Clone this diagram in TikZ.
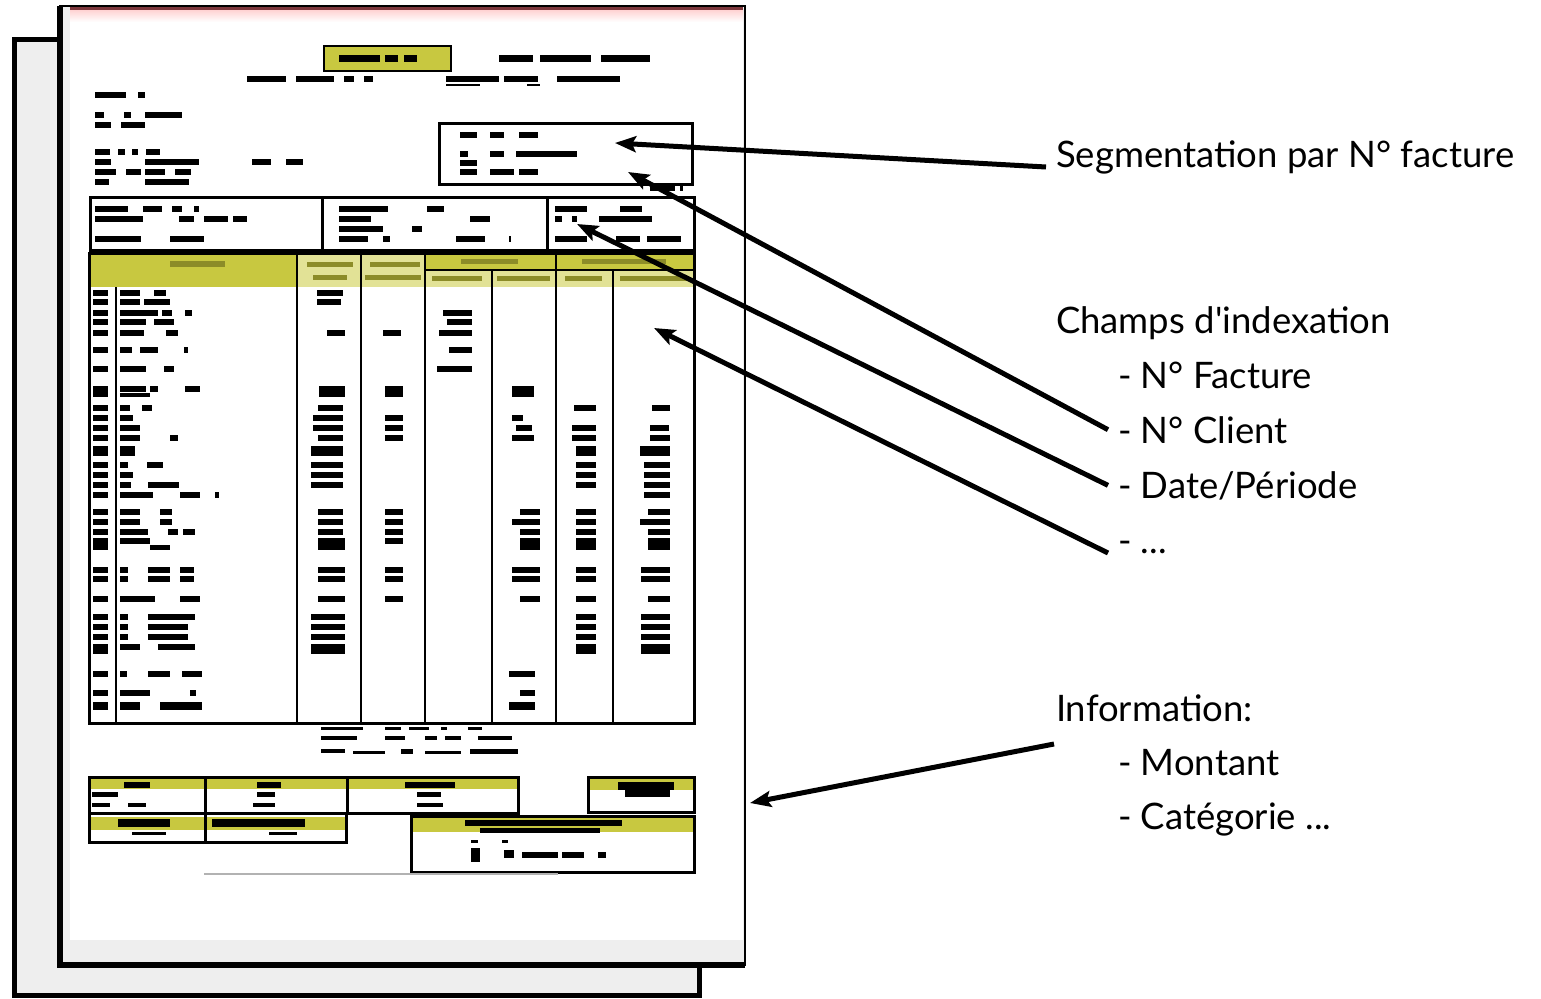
\documentclass[tikz,border=0pt]{standalone}
\usepackage{fontspec}
\setmainfont{Lato}
\usetikzlibrary{arrows.meta}

\definecolor{facjaune}{RGB}{200,200,64}
\definecolor{facpale}{RGB}{226,226,150}
\definecolor{facolive}{RGB}{140,140,40}
\definecolor{fondgris}{RGB}{238,238,238}
\definecolor{bordrouge}{RGB}{125,55,60}

\tikzset{
  lbl/.style={anchor=base west, inner sep=0pt, outer xsep=10pt, font=\fontsize{36.5}{44}\selectfont},
  fleche/.style={line width=5pt, -{Stealth[length=21pt,width=16pt,inset=4pt]}},
  cadre/.style={line width=3pt},
}

\begin{document}
\begin{tikzpicture}[x=1pt,y=-1pt]
\useasboundingbox (0,0) rectangle (1541,998);

% 1. 后面的纸 (灰色)
    \fill[fondgris] (14,40) rectangle (699,995);
    \draw[line width=5pt] (14,40) rectangle (699,995);

% 2. 前面的纸 (发票扫描)
    \fill[fondgris] (60,6) rectangle (745,965);
    \fill[white] (70,9) rectangle (743,940);
    \shade[top color=pink!70, bottom color=white] (70,10) rectangle (743,22);
    \fill[bordrouge] (70,7) rectangle (743,10);
    \draw[line width=2.5pt] (60,6) rectangle (745,965);
    \draw[line width=5.5pt] (60,6) -- (60,965) -- (745,965);

% 3. 标题和地址 (黑块代替文字)
    \filldraw[fill=facjaune, line width=2pt] (324,46) rectangle (451,71);
    \foreach \a/\b/\c/\d in {339/55/380/62, 385/55/398/62, 404/55/417/62,
        499/55/533/62, 540/55/591/62, 601/55/650/62,
        247/76/286/82, 296/76/334/82, 344/76/354/82, 364/76/373/82,
        446/76/499/82, 504/76/538/82, 557/76/620/82, 446/84/480/86, 527/84/540/86,
        95/92/126/98, 138/92/145/98,
        95/112/104/118, 124/112/131/118, 145/112/182/118,
        95/122/111/128, 121/122/145/128,
        95/149/110/155, 118/149/125/155, 132/149/138/155, 146/149/160/155,
        95/159/111/165, 145/159/199/165, 252/159/271/165, 286/159/303/165,
        95/169/116/175, 126/169/141/175, 145/169/165/175, 175/169/191/175,
        95/179/109/185, 145/179/189/185} {
        \fill (\a,\b) rectangle (\c,\d);
    }

    % 客户框
    \draw[cadre] (439,123) rectangle (692,184);
    \foreach \a/\b/\c/\d in {460/132/477/138, 490/132/504/138, 519/132/538/138,
        460/151/468/157, 490/151/504/157, 516/151/577/157,
        460/160/477/166,
        460/169/477/175, 490/169/514/175, 519/169/538/175,
        650/186/675/191, 680/186/683/191} {
        \fill (\a,\b) rectangle (\c,\d);
    }

    % 三个信息框
    \draw[cadre] (90,197) rectangle (694,250);
    \draw[cadre] (322,197) -- (322,250);
    \draw[cadre] (547,197) -- (547,250);
    \foreach \a/\b/\c/\d in {95/206/128/212, 143/206/162/212, 172/206/182/212, 194/206/199/212,
        95/216/143/222, 179/216/194/222, 204/216/228/222, 233/216/247/222,
        95/236/141/242, 170/236/204/242,
        339/206/388/212, 427/206/444/212,
        339/216/371/222, 470/216/490/222,
        339/226/383/232, 412/226/422/232,
        339/236/368/242, 383/236/390/242, 456/236/485/242, 509/236/511/242,
        555/206/587/212, 620/206/642/212,
        555/216/562/222, 572/216/577/222, 599/216/652/222,
        555/236/587/242, 616/236/640/242, 647/236/681/242} {
        \fill (\a,\b) rectangle (\c,\d);
    }

% 4. 表格
    \fill[facjaune] (89,255) rectangle (297,287);
    \fill[facpale] (297,255) rectangle (425,287);
    \fill[facjaune] (425,255) rectangle (694,270);
    \fill[facpale] (425,270) rectangle (694,287);
    \foreach \a/\b/\c/\d in {170/261/225/267, 307/262/353/267, 313/275/347/280,
        370/262/420/267, 365/275/421/280, 461/259/518/264, 582/259/666/264,
        432/276/482/281, 497/276/550/281, 565/276/602/281, 620/276/688/281} {
        \fill[facolive] (\a,\b) rectangle (\c,\d);
    }
    \draw[line width=3pt] (89,253) rectangle (694,723);
    \draw[line width=2pt] (425,270) -- (694,270);
    \foreach \x in {297,361,425,556} {
        \draw[line width=2.5pt] (\x,253) -- (\x,723);
    }
    \foreach \x in {492,613} {
        \draw[line width=2.5pt] (\x,270) -- (\x,723);
    }
    \draw[line width=2pt] (116,287) -- (116,723);

    % 表格行: y / 高度 / 黑块
    \foreach \y/\h/\xs in {290/6/{120/140,154/166,317/343},
        299/6/{120/140,144/170,317/341},
        310/6/{120/158,162/172,185/192,443/472},
        319/6/{120/146,154/174,447/472},
        330/6/{120/144,166/178,327/345,383/401,439/472},
        347/6/{120/132,140/158,184/188,449/472},
        366/6/{120/146,164/174,437/472},
        386/11/{319/345,385/403,512/534},
        386/6/{120/146,150/158,185/200},
        393/4/{120/150},
        405/6/{120/130,142/152,318/343,574/596,652/670},
        415/6/{120/133,313/343,385/403,512/523},
        425/6/{120/140,313/343,385/403,516/532,572/596,650/669},
        435/6/{120/140,170/178,318/343,385/403,512/534,572/596,650/670},
        446/10/{120/135,311/343,576/596,640/670},
        462/6/{120/128,147/163,311/343,576/596,644/670},
        472/6/{120/133,311/343,576/596,644/670},
        482/6/{120/131,148/179,311/343,576/596,644/670},
        492/6/{120/153,180/200,215/219,644/670},
        509/6/{120/140,160/172,318/343,385/403,520/540,576/596,648/670},
        519/6/{120/140,160/172,318/343,385/403,512/540,576/596,640/670},
        529/6/{120/148,168/178,183/195,318/343,385/403,520/540,576/596,648/670},
        538/12/{318/345,520/540,576/596,648/670},
        538/6/{120/150,385/403},
        545/5/{150/170},
        567/6/{120/128,148/170,180/194,318/345,385/403,512/540,576/596,641/670},
        576/6/{120/128,148/170,180/194,318/345,385/403,512/540,576/596,641/670},
        596/6/{120/155,180/200,318/345,385/403,520/540,576/596,648/670},
        614/6/{120/128,148/195,311/345,576/596,641/670},
        624/6/{120/128,148/188,311/345,576/596,641/670},
        634/6/{120/128,148/188,311/345,576/596,641/670},
        644/10/{311/345,576/596,641/670},
        644/6/{120/140,158/195},
        671/6/{120/127,148/170,182/202,509/535},
        690/6/{120/150,190/196,520/535},
        702/8/{120/140,160/202,509/535}} {
        \fill (93,\y) rectangle (108,{\y+\h});
        \foreach \a/\b in \xs {
            \fill (\a,\y) rectangle (\b,{\y+\h});
        }
    }

    % 表格下面的小字
    \foreach \a/\b/\c/\d in {321/727/363/730, 385/727/401/730, 409/727/429/730, 441/727/447/730, 468/727/482/730,
        321/736/357/740, 385/736/405/740, 425/736/437/740, 445/736/461/740, 478/736/512/740,
        321/749/345/753, 353/751/385/754, 401/749/413/754, 425/751/461/754, 470/749/518/754} {
        \fill (\a,\b) rectangle (\c,\d);
    }

% 5. 下面的框
    \fill[facjaune] (89,777) rectangle (518,789);
    \fill[facjaune] (89,817) rectangle (346,830);
    \fill[facjaune] (588,778) rectangle (694,790);
    \fill[facjaune] (411,818) rectangle (694,832);
    \draw[cadre] (89,777) rectangle (518,813);
    \draw[cadre] (205,777) -- (205,842);
    \draw[cadre] (347,777) -- (347,813);
    \draw[cadre] (89,813) rectangle (346,842);
    \draw[cadre] (588,777) rectangle (694,812);
    \draw[cadre] (411,816) rectangle (694,872);
    \foreach \a/\b/\c/\d in {124/782/150/788, 257/782/281/788, 405/782/455/788,
        92/792/118/797, 257/792/275/797, 417/792/441/797,
        92/803/110/807, 128/803/146/807, 253/803/275/807, 417/803/443/807,
        118/819/170/827, 212/819/305/827, 132/832/166/835, 269/832/297/835,
        618/782/674/790, 625/790/670/797,
        465/820/622/826, 480/828/600/833,
        471/840/478/843, 502/840/508/843,
        471/848/480/862, 504/850/514/858, 522/852/558/858, 562/852/584/858, 598/852/606/858} {
        \fill (\a,\b) rectangle (\c,\d);
    }
    \fill[gray!60] (204,873) rectangle (558,875);

% 6. 说明文字
    \node[lbl] (seg) at (1046,167) {Segmentation par N° facture};
    \node[lbl] (champs) at (1046,333) {Champs d\textquotesingle indexation};
    \node[lbl] (fac) at (1108,388) {- N° Facture};
    \node[lbl] (cli) at (1108,443) {- N° Client};
    \node[lbl] (dat) at (1108,498) {- Date/Période};
    \node[lbl] (etc) at (1108,553) {- ...};
    \node[lbl] (info) at (1046,721) {Information:};
    \node[lbl] (mont) at (1108,775) {- Montant};
    \node[lbl] (cat) at (1108,829) {- Catégorie ...};

% 7. 箭头
    \coordinate (tSeg) at (615,143);
    \coordinate (tCli) at (628,172);
    \coordinate (tDat) at (577,224);
    \coordinate (tEtc) at (654,328);
    \coordinate (tInfo) at (750,803);

    \draw[fleche] (seg.base west) -- (tSeg);
    \draw[fleche] (cli.west) -- (tCli);
    \draw[fleche] (dat.west) -- (tDat);
    \draw[fleche] (etc.base west) -- (tEtc);
    \draw[fleche] ([xshift=8pt,yshift=-23pt]info.base west) -- (tInfo);

\end{tikzpicture}
\end{document}
